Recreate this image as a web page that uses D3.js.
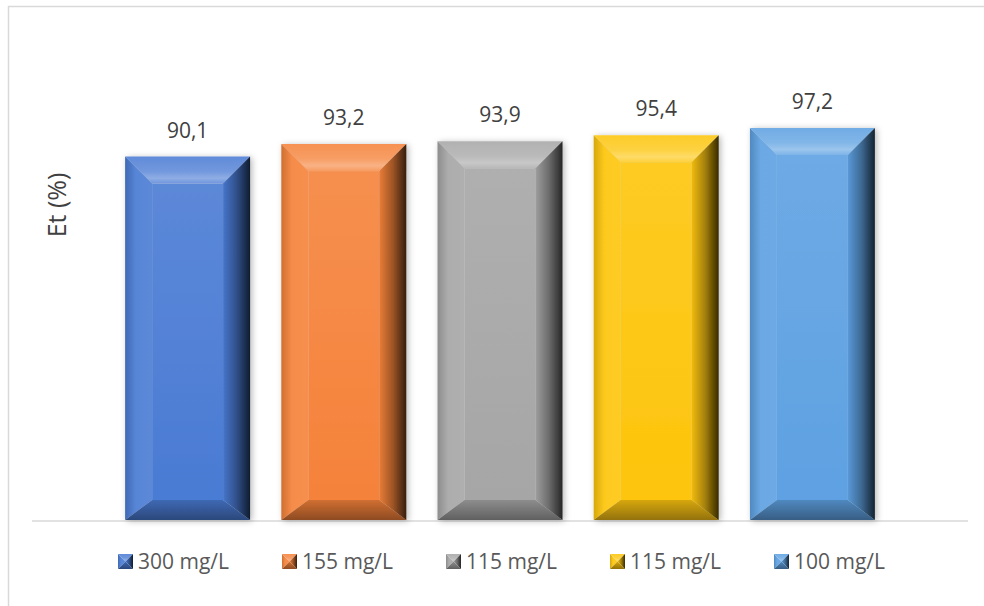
<!DOCTYPE html>
<html>
<head>
<meta charset="utf-8">
<script src="https://cdn.jsdelivr.net/npm/d3@7"></script>
<style>
  html, body { margin: 0; padding: 0; background: #ffffff; }
  svg { display: block; }
</style>
</head>
<body>
<svg id="chart" width="984" height="606"></svg>
<script>
const seriesNames = ["300 mg/L", "155 mg/L", "115 mg/L", "115 mg/L", "100 mg/L"];
const seriesValues = [90.1, 93.2, 93.9, 95.4, 97.2];
const valueLabels = ["90,1", "93,2", "93,9", "95,4", "97,2"];
const seriesColors = ["#4a7bd4", "#f5823a", "#a6a6a6", "#fdc50c", "#5ea1e2"];
const yTitle = "Et (%)";
const category = ["Et"];

const svg = d3.select("#chart");
const W = 984, H = 606;
const plot = { left: 32, right: 968, top: 36, bottom: 520 };
const fontFam = "'Open Sans', 'Liberation Sans', sans-serif";

// outer frame
svg.append("rect")
  .attr("x", 8.5).attr("y", 6.5)
  .attr("width", W + 20).attr("height", H + 20)
  .attr("fill", "#fff").attr("stroke", "#d9d9d9").attr("stroke-width", 1.5);

const defs = svg.append("defs");
const shadow = defs.append("filter").attr("id", "shadow")
  .attr("x", "-20%").attr("y", "-20%").attr("width", "140%").attr("height", "140%");
shadow.append("feDropShadow")
  .attr("dx", 2).attr("dy", 1).attr("stdDeviation", 3)
  .attr("flood-color", "#000").attr("flood-opacity", 0.28);

// scales
const x0 = d3.scaleBand().domain(category).range([plot.left, plot.right]).paddingOuter(0).paddingInner(0);
const catW = x0.bandwidth();
const gapSide = catW * 0.0995;
const xs = d3.scaleBand().domain(d3.range(seriesNames.length))
  .range([x0(category[0]) + gapSide, x0(category[0]) + catW - gapSide])
  .paddingInner(0.2).paddingOuter(0);
const y = d3.scaleLinear().domain([0, 120]).range([plot.bottom, plot.top]);

function mix(c, target, t) {
  return d3.interpolateRgb(c, target)(t);
}

function makeGrad(id, x1, y1, x2, y2, stops) {
  const g = defs.append("linearGradient").attr("id", id)
    .attr("x1", x1).attr("y1", y1).attr("x2", x2).attr("y2", y2);
  stops.forEach(s => g.append("stop").attr("offset", s[0]).attr("stop-color", s[1]));
}

function bevel(g, xa, xb, ya, yb, b, bb, col, idx, prefix) {
  const id = prefix + idx;
  const white = "#ffffff", black = "#000000";
  makeGrad(id + "t", 0, 0, 0, 1, [[0, mix(col, white, 0.12)], [0.55, mix(col, white, 0.22)], [0.8, mix(col, white, 0.38)], [1, mix(col, white, 0.2)]]);
  makeGrad(id + "l", 0, 0, 1, 0, [[0, mix(col, black, 0.15)], [0.4, mix(col, white, 0.08)], [1, mix(col, white, 0.1)]]);
  makeGrad(id + "r", 0, 0, 1, 0, [[0, mix(col, black, 0.05)], [0.5, mix(col, black, 0.35)], [1, mix(col, black, 0.78)]]);
  makeGrad(id + "b", 0, 0, 0, 1, [[0, mix(col, black, 0.15)], [1, mix(col, black, 0.42)]]);
  makeGrad(id + "c", 0, 0, 0, 1, [[0, mix(col, white, 0.1)], [1, col]]);

  const pts = {
    t: [[xa, ya], [xb, ya], [xb - b, ya + b], [xa + b, ya + b]],
    l: [[xa, ya], [xa + b, ya + b], [xa + b, yb - bb], [xa, yb]],
    r: [[xb, ya], [xb, yb], [xb - b, yb - bb], [xb - b, ya + b]],
    b: [[xa, yb], [xa + b, yb - bb], [xb - b, yb - bb], [xb, yb]]
  };
  g.append("rect").attr("x", xa + b).attr("y", ya + b)
    .attr("width", Math.max(0, xb - xa - 2 * b)).attr("height", Math.max(0, yb - ya - b - bb))
    .attr("fill", `url(#${id}c)`);
  ["t", "l", "b", "r"].forEach(k => {
    g.append("polygon").attr("points", pts[k].map(p => p.join(",")).join(" "))
      .attr("fill", `url(#${id}${k})`);
  });
}

// axis line
svg.append("line")
  .attr("x1", plot.left).attr("x2", plot.right)
  .attr("y1", plot.bottom + 1).attr("y2", plot.bottom + 1)
  .attr("stroke", "#d9d9d9").attr("stroke-width", 1.5);

// bars
seriesValues.forEach((v, i) => {
  const g = svg.append("g").attr("filter", "url(#shadow)");
  const xa = xs(i), xb = xs(i) + xs.bandwidth();
  bevel(g, xa, xb, y(v), y(0), 27, 20, seriesColors[i], i, "bar");
});

// data labels
svg.append("g").selectAll("text").data(seriesValues).join("text")
  .attr("x", (d, i) => xs(i) + xs.bandwidth() / 2)
  .attr("y", d => y(d) - 19)
  .attr("text-anchor", "middle")
  .attr("font-family", fontFam).attr("font-size", 21)
  .attr("fill", "#404040")
  .text((d, i) => valueLabels[i]);

// y title
svg.append("text")
  .attr("transform", `translate(66,205) rotate(-90)`)
  .attr("text-anchor", "middle")
  .attr("font-family", fontFam).attr("font-size", 25)
  .attr("fill", "#404040")
  .text(yTitle);

// legend
const legX = d3.scalePoint().domain(d3.range(seriesNames.length)).range([118, 774]);
const leg = svg.append("g");
seriesNames.forEach((name, i) => {
  const lx = legX(i), ly = 554;
  const g = leg.append("g");
  bevel(g, lx, lx + 15, ly, ly + 15, 7.5, 7.5, seriesColors[i], i, "leg");
  leg.append("text")
    .attr("x", lx + 20).attr("y", ly + 15)
    .attr("font-family", fontFam).attr("font-size", 21)
    .attr("fill", "#595959")
    .text(name);
});
</script>
</body>
</html>
